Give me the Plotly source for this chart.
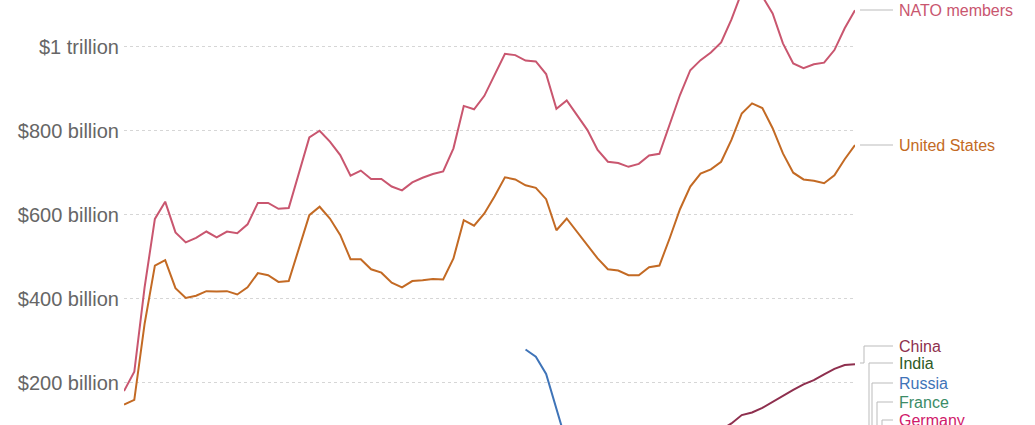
import plotly.graph_objects as go

years = list(range(1949, 2021))

nato = [180, 226, 427, 590, 631, 558, 534, 545, 560, 546, 560, 556, 577, 628, 628, 614,
        616, 700, 784, 800, 774, 742, 693, 705, 685, 685, 667, 658, 677, 688, 697, 703,
        758, 859, 851, 883, 933, 983, 980, 967, 965, 935, 852, 872, 837, 802, 754, 726,
        723, 714, 721, 741, 745, 815, 885, 944, 968, 986, 1010, 1065, 1130, 1150, 1120, 1079,
        1008, 960, 949, 958, 962, 992, 1044, 1087]

usa = [148, 159, 340, 479, 492, 425, 402, 407, 418, 417, 418, 410, 427, 461, 456, 440,
       442, 522, 599, 619, 591, 552, 494, 494, 470, 462, 438, 427, 442, 444, 447, 446,
       496, 587, 574, 603, 644, 689, 684, 670, 664, 637, 563, 591, 560, 528, 496, 470,
       467, 456, 456, 475, 479, 544, 613, 667, 698, 708, 726, 778, 841, 865, 854, 806,
       746, 700, 684, 681, 675, 694, 732, 766]

china_years = list(range(2007, 2021))
china = [88, 103, 123, 129, 140, 155, 168, 183, 196, 206, 220, 233, 242, 244]

russia_years = [1988, 1989, 1990, 1991, 1992]
russia = [279, 262, 221, 136, 55]

tick_vals = [200, 400, 600, 800, 1000]
tick_text = ["$200 billion", "$400 billion", "$600 billion", "$800 billion", "$1 trillion"]

label_names = ["NATO members", "United States", "China", "India", "Russia", "France", "Germany"]
label_colors = ["#c9566f", "#c36a24", "#8e2f4e", "#2e5a26", "#3f74b8", "#3b8c67", "#d01a6b"]

y_lo, y_hi = 99.3, 1111.2
plot_left, plot_w, plot_h = 124, 731, 425


def px_x(px):
    return (px - plot_left) / plot_w


def px_y(px):
    return 1 - px / plot_h


fig = go.Figure()
fig.add_trace(go.Scatter(x=years, y=nato, mode="lines", line=dict(color="#c9566f", width=2)))
fig.add_trace(go.Scatter(x=years, y=usa, mode="lines", line=dict(color="#c36a24", width=2)))
fig.add_trace(go.Scatter(x=russia_years, y=russia, mode="lines", line=dict(color="#3f74b8", width=2)))
fig.add_trace(go.Scatter(x=china_years, y=china, mode="lines", line=dict(color="#8e2f4e", width=2)))

# label positions (pixels from top) and leader elbows
label_y = [10, 145, 346, 363, 383, 402, 420]
elbow_x = [860, 860, 864, 869, 872, 877, 882]

shapes = []
grey = dict(color="#bbbbbb", width=1)
for i, name in enumerate(label_names):
    ly = label_y[i]
    shapes.append(dict(type="line", xref="paper", yref="paper", x0=px_x(elbow_x[i]), x1=px_x(893),
                       y0=px_y(ly), y1=px_y(ly), line=grey))
    fig.add_annotation(x=px_x(897), y=px_y(ly), xref="paper", yref="paper", text=name,
                       showarrow=False, xanchor="left", yanchor="middle",
                       font=dict(size=16, color=label_colors[i]))
    if i == 2:
        shapes.append(dict(type="line", xref="paper", yref="paper", x0=px_x(elbow_x[i]), x1=px_x(elbow_x[i]),
                           y0=px_y(346), y1=px_y(363), line=grey))
        shapes.append(dict(type="line", xref="paper", yref="paper", x0=px_x(860), x1=px_x(elbow_x[i]),
                           y0=px_y(363), y1=px_y(363), line=grey))
    elif i > 2:
        shapes.append(dict(type="line", xref="paper", yref="paper", x0=px_x(elbow_x[i]), x1=px_x(elbow_x[i]),
                           y0=px_y(ly), y1=px_y(440), line=grey))

fig.update_layout(
    width=1035, height=425,
    margin=dict(l=plot_left, r=1035 - plot_left - plot_w, t=0, b=0),
    plot_bgcolor="white", paper_bgcolor="white",
    showlegend=False,
    font=dict(family="Liberation Sans, Arial, sans-serif"),
    shapes=shapes,
    xaxis=dict(range=[1949, 2020], showgrid=False, showticklabels=False, zeroline=False,
               showline=False, ticks=""),
    yaxis=dict(range=[y_lo, y_hi], tickvals=tick_vals, ticktext=tick_text, showgrid=True,
               gridcolor="#d6d6d6", griddash="3px,3px", gridwidth=1, zeroline=False,
               showline=False, ticks="", ticklabelstandoff=4,
               tickfont=dict(size=20, color="#666666")),
)

# drop the browser's default page margin so the figure sits at the window's corner
fig.write_html("out.html", config={"displayModeBar": False},
               post_script="document.body.style.margin='0';document.body.style.overflow='hidden';")
